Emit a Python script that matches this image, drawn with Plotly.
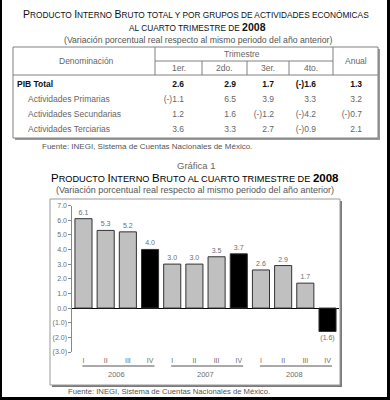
import plotly.graph_objects as go

W, H = 390, 400

# ---------------- table data ----------------
row_labels = ["PIB Total", "Actividades Primarias", "Actividades Secundarias", "Actividades Terciarias"]
quarter_headers = ["1er.", "2do.", "3er.", "4to."]
q1_vals = [2.6, -1.1, 1.2, 3.6]
q2_vals = [2.9, 6.5, 1.6, 3.3]
q3_vals = [1.7, 3.9, -1.2, 2.7]
q4_vals = [-1.6, 3.3, -4.2, -0.9]
annual_vals = [1.3, 3.2, -0.7, 2.1]

# ---------------- chart data ----------------
quarter_labels = ["I", "II", "III", "IV"] * 3
year_labels = ["2006", "2007", "2008"]
pib_growth = [6.1, 5.3, 5.2, 4.0, 3.0, 3.0, 3.5, 3.7, 2.6, 2.9, 1.7, -1.6]
y_tick_vals = [7, 6, 5, 4, 3, 2, 1, 0, -1, -2, -3]
y_tick_labels = ["7.0", "6.0", "5.0", "4.0", "3.0", "2.0", "1.0", "0.0", "(1.0)", "(2.0)", "(3.0)"]

FONT = "Arial, Liberation Sans, sans-serif"
GRAY = "#666666"
LGRAY = "#6e6e6e"


def px(x):
    return x / W


def py(y):
    return 1 - y / H


def fmt_table(v):
    return f"(-){abs(v):.1f}" if v < 0 else f"{v:.1f}"


def fmt_bar(v):
    return f"({abs(v):.1f})" if v < 0 else f"{v:.1f}"


def big(t, s):
    return f'<span style="font-size:{s}px">{t}</span>'


fig = go.Figure()

# ---------------- bar chart ----------------
x_idx = list(range(len(pib_growth)))
bar_colors = ["#000000" if q == "IV" else "#c0c0c0" for q in quarter_labels]
fig.add_trace(go.Bar(
    x=x_idx, y=pib_growth,
    marker=dict(color=bar_colors, line=dict(color="#333333", width=1)),
    text=[fmt_bar(v) for v in pib_growth],
    textposition="outside", constraintext="none", cliponaxis=False,
    textfont=dict(size=7, color=LGRAY, family=FONT),
    hoverinfo="skip", showlegend=False,
))

# ---------------- table body ----------------
table_cols = [q1_vals, q2_vals, q3_vals, q4_vals, annual_vals]
col_anchor = [184, 236, 274, 316, 362]
row_colors = ["#111111"] + [GRAY] * 3


def cell_text(s, i):
    return f"<b>{s}</b>" if i == 0 else s


fig.add_trace(go.Scatter(
    x=[17 if i == 0 else 28 for i in range(len(row_labels))], y=row_labels,
    mode="text", text=[cell_text(s, i) for i, s in enumerate(row_labels)],
    textposition="middle right",
    textfont=dict(size=8.5, color=row_colors, family=FONT),
    xaxis="x2", yaxis="y2", hoverinfo="skip", showlegend=False,
))
for anchor, col in zip(col_anchor, table_cols):
    fig.add_trace(go.Scatter(
        x=[anchor] * len(col), y=row_labels, mode="text",
        text=[cell_text(fmt_table(v), i) for i, v in enumerate(col)],
        textposition="middle left",
        textfont=dict(size=8.5, color=row_colors, family=FONT),
        xaxis="x2", yaxis="y2", hoverinfo="skip", showlegend=False,
    ))

annotations = []


def ann(text, x, y, size, color=GRAY, xref="paper", xanchor="center"):
    annotations.append(dict(
        text=text, x=x, y=py(y), xref=xref, yref="paper", showarrow=False,
        xanchor=xanchor, yanchor="middle", font=dict(size=size, color=color, family=FONT),
    ))


# titles
t1 = (big("P", 10.5) + "RODUCTO " + big("I", 10.5) + "NTERNO " + big("B", 10.5)
      + "RUTO TOTAL Y POR GRUPOS DE ACTIVIDADES ECONÓMICAS")
ann(t1, px(196), 14, 8.3, "#111111")
ann("AL CUARTO TRIMESTRE DE " + big("<b>2008</b>", 10.5), px(197), 27, 8.3, "#111111")
ann("(Variación porcentual real respecto al mismo periodo del año anterior)", px(198), 40, 8.7, "#555555")

# table header
col_centers = [178.5, 224.5, 268, 311]
ann("Denominación", 86, 61, 8.5, xref="x2")
ann("Trimestre", 242, 54, 8.5, xref="x2")
for c, h in zip(col_centers, quarter_headers):
    ann(h, c, 68, 8.5, xref="x2")
ann("Anual", 355.5, 61, 8.5, xref="x2")
ann("Fuente: INEGI, Sistema de Cuentas Nacionales de México.", px(40), 146, 8, "#555555", xanchor="left")

# chart titles
ann("Gráfica 1", px(196), 165, 9.5, "#666666")
t2 = (big("P", 11.5) + "RODUCTO " + big("I", 11.5) + "NTERNO " + big("B", 11.5)
      + "RUTO AL CUARTO TRIMESTRE DE " + big("<b>2008</b>", 11.5))
ann(t2, px(195), 178, 9.2, "#000000")
ann("(Variación porcentual real respecto al mismo periodo del año anterior)", px(195), 190, 9, "#555555")

# year labels under quarter ticks
shapes = []
for k, yr in enumerate(year_labels):
    i0, i1 = 4 * k, 4 * k + 3
    annotations.append(dict(
        text=yr, x=(i0 + i1) / 2, y=py(374), xref="x", yref="paper", showarrow=False,
        xanchor="center", yanchor="middle",
        font=dict(size=7.5, color=LGRAY, family=FONT),
    ))
    shapes.append(dict(type="line", xref="x", yref="paper", x0=i0 - 0.05, x1=i1 + 0.2,
                       y0=py(366), y1=py(366), line=dict(color="#555555", width=1)))

ann("Fuente: INEGI, Sistema de Cuentas Nacionales de México.", px(169), 391, 7.7, "#555555")


def rect(x0, y0, x1, y1, fill=None, line_color=None, lw=1):
    shapes.append(dict(type="rect", xref="paper", yref="paper",
                       x0=px(x0), x1=px(x1), y0=py(y1), y1=py(y0),
                       fillcolor=fill or "rgba(0,0,0,0)",
                       line=dict(color=line_color or "rgba(0,0,0,0)", width=lw if line_color else 0),
                       layer="below"))


def hline(x0, x1, y, color="#808080", lw=1):
    shapes.append(dict(type="line", xref="paper", yref="paper", x0=px(x0), x1=px(x1),
                       y0=py(y), y1=py(y), line=dict(color=color, width=lw)))


def vline(x, y0, y1, color="#808080", lw=1):
    shapes.append(dict(type="line", xref="paper", yref="paper", x0=px(x), x1=px(x),
                       y0=py(y0), y1=py(y1), line=dict(color=color, width=lw)))


# table frame
rect(15, 49, 380, 140, fill="#9a9a9a")
rect(13, 47, 378, 138, fill="#ffffff", line_color="#808080")
hline(13, 378, 75)
vline(155, 47, 75)
vline(333, 47, 75)
hline(155, 333, 61)
for xv in [202, 247, 289]:
    vline(xv, 61, 75)

# chart frame
rect(52, 201, 342, 387, fill="#7a7a7a")
rect(50, 199, 340, 385, fill="#ffffff", line_color="#999999")

# outer black border
rect(0, 0, 2, 400, fill="#000000")
rect(387, 0, 390, 400, fill="#000000")
rect(0, 397, 390, 400, fill="#000000")

fig.update_layout(
    template="none",
    width=W, height=H,
    margin=dict(l=0, r=0, t=0, b=0),
    paper_bgcolor="#ffffff", plot_bgcolor="rgba(0,0,0,0)",
    showlegend=False, bargap=0.23,
    font=dict(family=FONT, color=GRAY),
    xaxis=dict(domain=[px(72.4), px(338.6)], range=[-0.5, 11.5], tickvals=x_idx,
               ticktext=quarter_labels, showgrid=False, zeroline=False, showline=False,
               ticks="", ticklabelstandoff=3,
               tickfont=dict(size=7, color=LGRAY), anchor="y", fixedrange=True),
    yaxis=dict(domain=[py(352), py(205.5)], range=[-3, 7], tickvals=y_tick_vals,
               ticktext=y_tick_labels, showgrid=False, showline=True, linecolor="#888888",
               linewidth=1, ticks="outside", ticklen=3, tickcolor="#888888",
               zeroline=True, zerolinecolor="#000000", zerolinewidth=1,
               tickfont=dict(size=7, color=LGRAY), anchor="x", fixedrange=True),
    xaxis2=dict(domain=[0, 1], range=[0, W], visible=False, anchor="y2", fixedrange=True),
    yaxis2=dict(domain=[py(137), py(77)], type="category", categoryorder="array",
                categoryarray=row_labels, range=[3.5, -0.5], visible=False, anchor="x2",
                fixedrange=True),
    annotations=annotations,
    shapes=shapes,
)

fig.write_html("out.html", config={"displayModeBar": False},
               post_script="document.body.style.margin='0px';")
